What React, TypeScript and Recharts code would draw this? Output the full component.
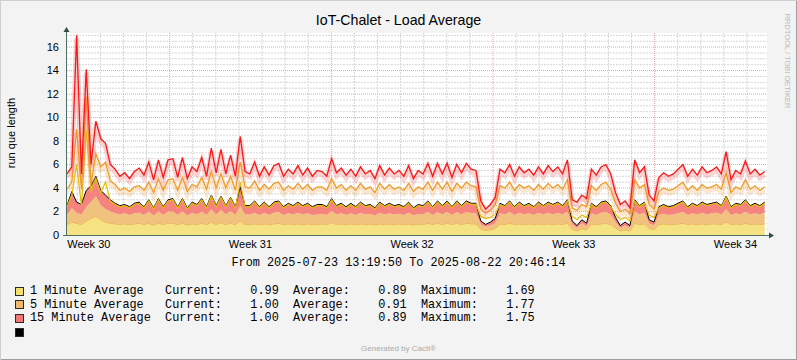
import { Area, CartesianGrid, ComposedChart, Line, XAxis, YAxis } from "recharts"

const HOUR = 3600 * 1000
const DAY = 24 * HOUR
const START = Date.UTC(2025, 6, 23, 13, 19, 50)
const END = Date.UTC(2025, 7, 22, 20, 46, 14)
const STEP_HOURS = 5

// stacked averages (1 / 5 / 15 minute)
const load1 = [
  0.9, 1.1, 1.0, 0.9, 1.2, 1.4, 1.6, 1.3, 1.1, 1.0,
  0.95, 0.9, 0.95, 0.9, 0.95, 1.0, 0.9, 1.0, 0.85, 1.0,
  0.9, 1.0, 1.0, 0.9, 1.0, 0.85, 0.95, 0.9, 1.0, 0.9,
  1.1, 0.9, 1.05, 0.9, 1.0, 0.9, 1.2, 0.9, 0.9, 0.95,
  0.9, 0.95, 0.9, 0.95, 1.0, 0.9, 0.95, 0.9, 0.95, 0.9,
  0.95, 0.9, 0.9, 0.95, 0.9, 1.05, 0.9, 0.95, 0.9, 0.95,
  0.9, 0.95, 0.9, 0.95, 0.85, 0.95, 0.9, 0.95, 0.9, 0.95,
  0.9, 0.95, 0.85, 0.95, 0.9, 1.0, 0.9, 1.0, 0.9, 1.0,
  0.9, 1.0, 0.9, 1.0, 0.95, 0.95, 0.5, 0.4, 0.45, 0.55,
  0.95, 0.9, 1.0, 0.9, 0.95, 0.9, 0.95, 0.9, 0.95, 0.9,
  0.95, 0.9, 0.95, 0.9, 1.0, 0.5, 0.35, 0.55, 0.45, 0.95,
  0.9, 0.95, 1.0, 0.9, 0.6, 0.35, 0.45, 0.35, 1.0, 0.9,
  0.95, 0.55, 0.45, 0.9, 0.95, 0.9, 0.9, 0.95, 1.0, 0.9,
  0.95, 0.9, 0.95, 0.9, 0.95, 0.95, 0.9, 1.1, 0.9, 0.95,
  0.9, 1.0, 0.9, 0.95, 0.9, 0.95,
]
const load5 = [
  0.8, 1.2, 0.9, 0.85, 1.2, 1.4, 1.7, 1.25, 1.1, 1.0,
  0.9, 0.85, 0.9, 0.8, 0.9, 0.9, 0.8, 1.0, 0.8, 1.0,
  0.8, 1.0, 1.0, 0.8, 1.0, 0.8, 0.95, 0.85, 1.0, 0.8,
  1.1, 0.85, 1.1, 0.85, 1.05, 0.8, 1.3, 0.85, 0.85, 0.95,
  0.8, 0.95, 0.8, 0.95, 0.95, 0.8, 0.9, 0.85, 0.95, 0.85,
  0.9, 0.8, 0.85, 0.85, 0.8, 1.0, 0.85, 0.9, 0.8, 0.9,
  0.8, 0.95, 0.85, 0.85, 0.8, 0.95, 0.85, 0.9, 0.85, 0.85,
  0.8, 0.95, 0.8, 0.85, 0.85, 0.95, 0.8, 0.95, 0.85, 0.95,
  0.8, 0.95, 0.85, 0.95, 0.9, 0.9, 0.4, 0.3, 0.35, 0.45,
  0.9, 0.85, 0.95, 0.8, 0.95, 0.85, 0.9, 0.8, 0.95, 0.85,
  0.95, 0.85, 0.95, 0.85, 1.0, 0.4, 0.25, 0.45, 0.3, 0.9,
  0.8, 0.95, 0.95, 0.85, 0.5, 0.25, 0.35, 0.25, 1.0, 0.85,
  0.95, 0.45, 0.35, 0.8, 0.85, 0.8, 0.85, 0.9, 0.95, 0.8,
  0.9, 0.85, 0.95, 0.85, 0.9, 0.95, 0.85, 1.1, 0.8, 0.9,
  0.85, 1.0, 0.85, 0.9, 0.85, 0.95,
]
const load15 = [
  0.8, 1.4, 0.9, 0.85, 1.4, 1.4, 1.7, 1.25, 1.2, 1.0,
  0.85, 0.75, 0.75, 0.7, 0.85, 0.9, 0.7, 1.0, 0.65, 1.1,
  0.7, 1.0, 1.1, 0.7, 1.1, 0.65, 0.9, 0.85, 1.1, 0.7,
  1.2, 0.75, 1.15, 0.75, 1.15, 0.7, 1.6, 0.75, 0.75, 1.0,
  0.7, 0.9, 0.7, 0.9, 0.95, 0.7, 0.85, 0.75, 0.9, 0.75,
  0.85, 0.7, 0.85, 0.8, 0.7, 1.05, 0.75, 0.85, 0.7, 0.85,
  0.7, 0.9, 0.75, 0.8, 0.65, 0.9, 0.75, 0.85, 0.75, 0.8,
  0.7, 0.9, 0.65, 0.8, 0.75, 0.95, 0.7, 0.95, 0.75, 0.95,
  0.7, 0.95, 0.75, 0.95, 0.85, 0.85, 0.3, 0.2, 0.3, 0.4,
  0.85, 0.75, 0.95, 0.7, 0.9, 0.75, 0.85, 0.7, 0.9, 0.75,
  0.9, 0.85, 0.9, 0.75, 1.0, 0.3, 0.2, 0.3, 0.25, 0.85,
  0.7, 0.9, 0.95, 0.75, 0.4, 0.2, 0.3, 0.2, 1.0, 0.75,
  0.9, 0.3, 0.3, 0.7, 0.8, 0.7, 0.75, 0.85, 0.95, 0.7,
  0.85, 0.75, 0.9, 0.85, 0.85, 0.9, 0.75, 1.1, 0.7, 0.85,
  0.85, 1.0, 0.75, 0.85, 0.75, 0.9,
]

// upper lines
const peakGold = [
  2.4, 3.4, 6.0, 2.5, 8.9, 3.7, 4.8, 3.6, 4.5, 2.9,
  2.6, 2.4, 2.5, 2.3, 2.6, 2.7, 2.3, 2.9, 2.2, 3.0,
  2.3, 2.9, 3.0, 2.3, 3.0, 2.2, 2.7, 2.5, 3.0, 2.3,
  3.3, 2.4, 3.2, 2.4, 3.1, 2.3, 4.5, 2.4, 2.4, 2.8,
  2.3, 2.7, 2.3, 2.7, 2.8, 2.3, 2.6, 2.4, 2.7, 2.4,
  2.6, 2.3, 2.5, 2.5, 2.3, 3.0, 2.4, 2.6, 2.3, 2.6,
  2.3, 2.7, 2.4, 2.5, 2.2, 2.7, 2.4, 2.6, 2.4, 2.5,
  2.3, 2.7, 2.2, 2.5, 2.4, 2.8, 2.3, 2.8, 2.4, 2.8,
  2.3, 2.8, 2.4, 2.8, 2.6, 2.6, 1.6, 1.4, 1.5, 1.8,
  2.6, 2.4, 2.8, 2.3, 2.7, 2.4, 2.6, 2.3, 2.7, 2.4,
  2.7, 2.5, 2.7, 2.4, 2.9, 1.6, 1.3, 1.7, 1.5, 2.6,
  2.3, 2.7, 2.8, 2.4, 1.8, 1.3, 1.5, 1.2, 2.9, 2.4,
  2.7, 1.7, 1.5, 2.3, 2.5, 2.3, 2.4, 2.6, 2.8, 2.3,
  2.6, 2.4, 2.7, 2.5, 2.6, 2.7, 2.4, 3.2, 2.3, 2.6,
  2.5, 2.9, 2.4, 2.6, 2.4, 2.7,
]
const peakOrange = [
  3.9, 4.5, 9.0, 3.9, 11.8, 4.3, 6.9, 5.8, 6.2, 4.6,
  4.3, 3.8, 4.0, 3.7, 4.1, 4.2, 3.8, 4.5, 3.6, 4.8,
  3.8, 4.7, 4.8, 3.8, 4.9, 3.7, 4.3, 4.1, 4.9, 3.9,
  5.4, 4.0, 5.2, 4.0, 5.0, 3.8, 6.2, 4.1, 4.0, 4.6,
  3.8, 4.3, 3.9, 4.4, 4.5, 3.8, 4.2, 3.9, 4.4, 3.9,
  4.3, 3.8, 4.1, 4.1, 3.8, 4.8, 4.0, 4.3, 3.8, 4.2,
  3.8, 4.4, 3.9, 4.1, 3.6, 4.4, 3.9, 4.3, 3.9, 4.1,
  3.8, 4.4, 3.7, 4.1, 3.9, 4.5, 3.8, 4.5, 3.9, 4.5,
  3.7, 4.4, 4.0, 4.5, 4.2, 4.1, 2.2, 1.9, 2.1, 2.6,
  4.2, 4.0, 4.5, 3.8, 4.3, 4.0, 4.2, 3.8, 4.3, 3.9,
  4.4, 4.0, 4.3, 3.9, 4.7, 2.3, 2.1, 2.6, 2.4, 4.2,
  3.8, 4.3, 4.5, 3.9, 2.7, 2.0, 2.2, 1.8, 4.7, 4.0,
  4.3, 2.6, 2.2, 3.7, 4.0, 3.8, 3.9, 4.2, 4.5, 3.8,
  4.2, 3.8, 4.3, 4.0, 4.1, 4.3, 3.9, 5.3, 3.6, 4.1,
  3.9, 4.7, 3.9, 4.2, 3.8, 4.1,
]
const peakRed = [
  5.2, 5.8, 17.0, 5.2, 14.1, 6.0, 9.7, 8.2, 7.8, 6.0,
  5.6, 5.0, 5.3, 4.8, 5.4, 5.7, 5.1, 6.2, 4.7, 6.4,
  4.9, 6.4, 6.5, 4.9, 6.6, 4.8, 5.8, 5.4, 6.6, 5.0,
  7.4, 5.3, 7.3, 5.2, 6.8, 5.0, 8.4, 5.4, 5.2, 6.2,
  5.0, 5.8, 5.1, 5.9, 6.1, 5.0, 5.6, 5.2, 5.9, 5.1,
  5.7, 5.0, 5.5, 5.4, 5.0, 6.5, 5.3, 5.7, 5.1, 5.6,
  5.0, 5.8, 5.2, 5.5, 4.8, 5.9, 5.1, 5.7, 5.2, 5.5,
  5.0, 5.9, 4.8, 5.5, 5.2, 6.1, 5.0, 6.1, 5.2, 6.1,
  4.9, 6.0, 5.3, 6.1, 5.6, 5.5, 2.9, 2.2, 2.6, 3.2,
  5.6, 5.3, 6.0, 5.0, 5.8, 5.3, 5.6, 5.1, 5.8, 5.2,
  5.9, 5.4, 5.8, 5.2, 6.4, 3.0, 2.8, 3.4, 3.1, 5.6,
  5.1, 5.8, 6.0, 5.2, 3.6, 2.6, 2.9, 2.3, 6.4, 5.3,
  5.8, 3.4, 2.9, 4.9, 5.3, 5.0, 5.2, 5.6, 6.0, 5.0,
  5.6, 5.1, 5.8, 5.3, 5.5, 5.8, 5.2, 7.1, 4.7, 5.5,
  5.2, 6.3, 5.2, 5.6, 5.1, 5.4,
]

const weekLabels = ["Week 30", "Week 31", "Week 32", "Week 33", "Week 34"]
const weekMidpoints = [
  Date.UTC(2025, 6, 24, 12),
  Date.UTC(2025, 6, 31, 12),
  Date.UTC(2025, 7, 7, 12),
  Date.UTC(2025, 7, 14, 12),
  Date.UTC(2025, 7, 21, 12),
]
const weekStarts = [Date.UTC(2025, 6, 28), Date.UTC(2025, 7, 4), Date.UTC(2025, 7, 11), Date.UTC(2025, 7, 18)]
const yLabels = [0, 2, 4, 6, 8, 10, 12, 14, 16]
const Y_MAX = 17.2

const legendRows = [
  { color: "#F4DE6C", text: "1 Minute Average   Current:    0.99  Average:    0.89  Maximum:    1.69" },
  { color: "#EDB96E", text: "5 Minute Average   Current:    1.00  Average:    0.91  Maximum:    1.77" },
  { color: "#F37474", text: "15 Minute Average  Current:    1.00  Average:    0.89  Maximum:    1.75" },
  { color: "#000000", text: "" },
]

// plot box (grid only)
const PLOT = { left: 67, top: 33, width: 700, height: 202 }
const px = (t: number) => PLOT.left + ((t - START) / (END - START)) * PLOT.width
const py = (v: number) => PLOT.top + (1 - v / Y_MAX) * PLOT.height

const dayLines: number[] = []
for (let t = Date.UTC(2025, 6, 24); t < END; t += DAY) if (!weekStarts.includes(t)) dayLines.push(t)
const minorY: number[] = []
for (let v = 0.5; v <= 17; v += 0.5) if (v % 2 !== 0) minorY.push(v)
const majorY = yLabels.filter((v) => v > 0)

const data = load1.map((v, i) => ({
  t: START + i * STEP_HOURS * HOUR,
  load1: v,
  load5: load5[i],
  load15: load15[i],
  gold: peakGold[i],
  orange: peakOrange[i],
  red: peakRed[i],
}))

const mono = "'Liberation Mono', 'Courier New', monospace"
const sans = "'Liberation Sans', Arial, sans-serif"
const AXIS = "#4f6e65"

export default function App() {
  return (
    <div
      style={{
        position: "relative",
        width: 797,
        height: 360,
        background: "#F3F3F3",
        boxShadow: "inset 1px 1px 0 #CFCFCF, inset -1px -1px 0 #9E9E9E",
        overflow: "hidden",
        fontFamily: sans,
      }}
    >
      <style>{`body{margin:0}.band-red{transform:translateY(3px)}.band-orange{transform:translateY(3px)}`}</style>
      <div style={{ position: "absolute", left: 0, width: 797, top: 12, textAlign: "center", fontSize: 14.2, color: "#000" }}>
        IoT-Chalet - Load Average
      </div>
      <div
        style={{
          position: "absolute",
          left: 11,
          top: 133,
          transform: "translate(-50%, -50%) rotate(-90deg)",
          fontSize: 11,
          whiteSpace: "nowrap",
          color: "#000",
        }}
      >
        run que length
      </div>
      <div
        style={{
          position: "absolute",
          left: 787,
          top: 61,
          transform: "translate(-50%, -50%) rotate(90deg)",
          fontSize: 7.5,
          whiteSpace: "nowrap",
          color: "#BBBBBB",
        }}
      >
        RRDTOOL / TOBI OETIKER
      </div>

      <div style={{ position: "absolute", left: 0, top: 0 }}>
        <ComposedChart width={797} height={360} data={data} margin={{ top: 33, right: 30, bottom: 105, left: 0 }}>
          <CartesianGrid
            fill="#FFFFFF"
            stroke="#D6D6D6"
            strokeDasharray="2 1"
            horizontalPoints={minorY.map(py)}
            verticalPoints={dayLines.map(px)}
          />
          <CartesianGrid
            stroke="#E9A5A5"
            strokeDasharray="1 1"
            horizontalPoints={majorY.map(py)}
            verticalPoints={weekStarts.map(px)}
          />
          <XAxis
            type="number"
            dataKey="t"
            domain={[START, END]}
            ticks={weekMidpoints}
            tickFormatter={(v: number) => weekLabels[weekMidpoints.indexOf(v)]}
            height={20}
            tickLine={false}
            axisLine={false}
            tickSize={0}
            tickMargin={5}
            tick={{ fontSize: 11, fill: "#000", fontFamily: sans }}
            allowDataOverflow
          />
          <YAxis
            type="number"
            domain={[0, Y_MAX]}
            ticks={yLabels}
            width={67}
            tickLine={false}
            axisLine={false}
            tickSize={0}
            tickMargin={8}
            tick={{ fontSize: 11, fill: "#000", fontFamily: sans }}
            allowDataOverflow
          />
          <Area type="linear" dataKey="load1" stackId="avg" fill="#F5E283" fillOpacity={1} stroke="#E9A63C" strokeWidth={1} isAnimationActive={false} />
          <Area type="linear" dataKey="load5" stackId="avg" fill="#F0C27E" fillOpacity={1} stroke="none" isAnimationActive={false} />
          <Area type="linear" dataKey="load15" stackId="avg" fill="#F5847F" fillOpacity={1} stroke="#000" strokeWidth={1} isAnimationActive={false} />
          <Line type="linear" dataKey="gold" stroke="#E6BC00" strokeWidth={1.2} dot={false} isAnimationActive={false} />
          <Line type="linear" dataKey="orange" className="band-orange" stroke="#F2B060" strokeOpacity={0.3} strokeWidth={5} dot={false} isAnimationActive={false} />
          <Line type="linear" dataKey="orange" stroke="#EE9A22" strokeWidth={1.2} dot={false} isAnimationActive={false} />
          <Line type="linear" dataKey="red" className="band-red" stroke="#F76A6A" strokeOpacity={0.3} strokeWidth={5} dot={false} isAnimationActive={false} />
          <Line type="linear" dataKey="red" stroke="#F81818" strokeWidth={1.3} dot={false} isAnimationActive={false} />
        </ComposedChart>
      </div>

      <svg width={797} height={360} style={{ position: "absolute", left: 0, top: 0, pointerEvents: "none" }}>
        <line x1={66.5} y1={236} x2={66.5} y2={31} stroke={AXIS} strokeWidth={1} />
        <polygon points="63.5,32 69.5,32 66.5,27" fill="#2E4D44" />
        <line x1={63} y1={235.5} x2={770} y2={235.5} stroke={AXIS} strokeWidth={1} />
        <polygon points="769,232.5 769,238.5 774,235.5" fill="#2E4D44" />
      </svg>

      <div style={{ position: "absolute", left: 0, width: 797, top: 256, textAlign: "center", fontFamily: mono, fontSize: 11.85, whiteSpace: "pre" }}>
        From 2025-07-23 13:19:50 To 2025-08-22 20:46:14
      </div>

      {legendRows.map((row, i) => (
        <div key={i} style={{ position: "absolute", left: 15, top: 284 + i * 13.7, height: 14, display: "flex", alignItems: "center" }}>
          <div style={{ width: 7, height: 7, background: row.color, border: "1px solid #2A2A2A" }} />
          <span style={{ marginLeft: 6, fontFamily: mono, fontSize: 11.85, whiteSpace: "pre", color: "#000" }}>{row.text}</span>
        </div>
      ))}

      <div style={{ position: "absolute", left: 0, width: 797, top: 344, textAlign: "center", fontSize: 8, color: "#AAAAAA" }}>
        Generated by Cacti®
      </div>
    </div>
  )
}
